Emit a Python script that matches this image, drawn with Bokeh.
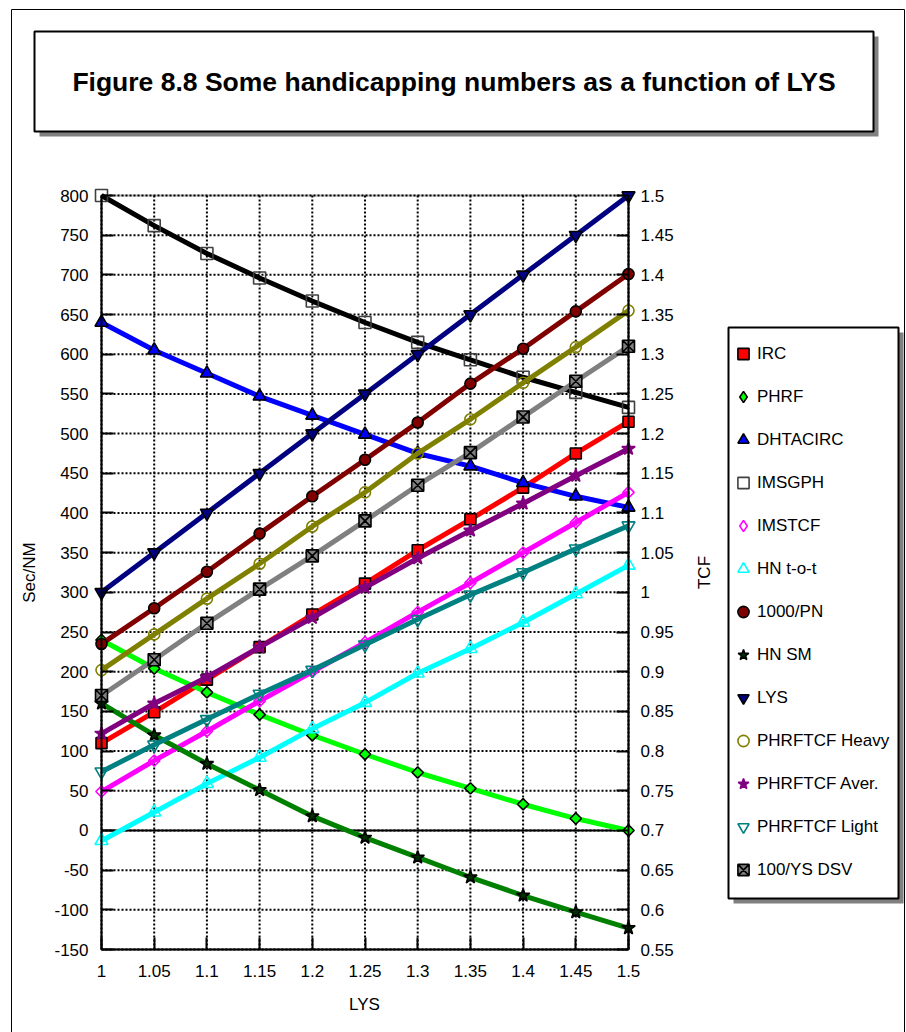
from bokeh.plotting import figure
from bokeh.models import (Range1d, LinearAxis, FixedTicker, NumeralTickFormatter,
                          Legend, LegendItem, Label, BoxAnnotation)
from bokeh.embed import file_html
from bokeh.resources import INLINE

# ---------------- data ----------------
LYS_X = [1.0, 1.05, 1.1, 1.15, 1.2, 1.25, 1.3, 1.35, 1.4, 1.45, 1.5]
IRC = [110, 149, 190, 231, 272, 311, 353, 392, 432, 475, 515]
PHRF = [240, 204, 174, 146, 120, 96, 73, 53, 33, 15, 0]
DHTACIRC = [640, 605, 576, 547, 523, 499, 475, 459, 438, 421, 407]
IMSGPH = [800, 762, 727, 696, 667, 640, 615, 593, 571, 552, 533]
IMSTCF = [0.749, 0.788, 0.825, 0.863, 0.900, 0.937, 0.975, 1.012, 1.050, 1.088, 1.126]
HN_TOT = [0.687, 0.723, 0.759, 0.792, 0.828, 0.861, 0.898, 0.929, 0.962, 0.998, 1.034]
PN1000 = [235, 280, 326, 374, 421, 467, 514, 563, 607, 654, 701]
HN_SM = [160, 120, 84, 51, 18, -9, -34, -59, -82, -103, -123]
LYS_TCF = [1.0, 1.05, 1.1, 1.15, 1.2, 1.25, 1.3, 1.35, 1.4, 1.45, 1.5]
PHRFTCF_HEAVY = [0.902, 0.947, 0.992, 1.036, 1.083, 1.126, 1.175, 1.218, 1.264, 1.309, 1.355]
PHRFTCF_AVER = [0.822, 0.860, 0.893, 0.931, 0.968, 1.006, 1.043, 1.078, 1.112, 1.147, 1.181]
PHRFTCF_LIGHT = [0.774, 0.808, 0.840, 0.872, 0.902, 0.934, 0.966, 0.997, 1.025, 1.055, 1.084]
YS_DSV100 = [170, 215, 261, 304, 346, 390, 435, 476, 521, 566, 610]

LEFT_TICKS = [-150, -100, -50, 0, 50, 100, 150, 200, 250, 300, 350, 400, 450,
              500, 550, 600, 650, 700, 750, 800]
RIGHT_TICKS = [0.55, 0.6, 0.65, 0.7, 0.75, 0.8, 0.85, 0.9, 0.95, 1.0, 1.05, 1.1,
               1.15, 1.2, 1.25, 1.3, 1.35, 1.4, 1.45, 1.5]
X_TICKS = [1.0, 1.05, 1.1, 1.15, 1.2, 1.25, 1.3, 1.35, 1.4, 1.45, 1.5]

TITLE = "Figure 8.8 Some handicapping numbers as a function of LYS"

# ---------------- layout / styles ----------------
W, H = 906, 1032
FONT = "Liberation Sans"
FS = "17px"

XMIN, XMAX = X_TICKS[0], X_TICKS[-1]
YMIN, YMAX = LEFT_TICKS[0], LEFT_TICKS[-1]
TMIN, TMAX = RIGHT_TICKS[0], RIGHT_TICKS[-1]
# pixel box of the plotting area on the page
PL, PR, PT, PB = 101, 628, 195, 949
KX = (XMAX - XMIN) / (PR - PL)
KY = (YMAX - YMIN) / (PB - PT)
KT = (TMAX - TMIN) / (PB - PT)


def px2x(px):
    return XMIN + (px - PL) * KX


def py2y(py):
    return YMAX - (py - PT) * KY


series = [
    # name, values, range, line colour, marker, fill, outline, size, angle
    ("IRC", IRC, "default", "#FF0000", "square", "#FF0000", "black", 11, 0),
    ("PHRF", PHRF, "default", "#00FF00", "square", "#00FF00", "black", 8, 0.7854),
    ("DHTACIRC", DHTACIRC, "default", "#0000FF", "triangle", "#0000FF", "black", 13, 0),
    ("IMSGPH", IMSGPH, "default", "#000000", "square", None, "#404040", 12, 0),
    ("IMSTCF", IMSTCF, "tcf", "#FF00FF", "square", None, "#FF00FF", 8, 0.7854),
    ("HN t-o-t", HN_TOT, "tcf", "#00FFFF", "triangle", None, "#00FFFF", 13, 0),
    ("1000/PN", PN1000, "default", "#800000", "circle", "#800000", "black", 11, 0),
    ("HN SM", HN_SM, "default", "#008000", "star", "#003000", "black", 14, 0),
    ("LYS", LYS_TCF, "tcf", "#000080", "inverted_triangle", "#000080", "black", 13, 0),
    ("PHRFTCF Heavy", PHRFTCF_HEAVY, "tcf", "#808000", "circle", None, "#808000", 11, 0),
    ("PHRFTCF Aver.", PHRFTCF_AVER, "tcf", "#800080", "star", "#800080", "#800080", 14, 0),
    ("PHRFTCF Light", PHRFTCF_LIGHT, "tcf", "#008080", "inverted_triangle", None, "#008080", 13, 0),
    ("100/YS DSV", YS_DSV100, "default", "#808080", "square_x", "#808080", "black", 12, 0),
]

p = figure(width=W, height=H, output_backend="svg", toolbar_location=None,
           x_range=Range1d(px2x(0), px2x(W)), y_range=Range1d(py2y(H), py2y(0)),
           x_axis_type=None, y_axis_type=None,
           min_border_left=0, min_border_right=0, min_border_top=0, min_border_bottom=0,
           background_fill_color="white", border_fill_color="white")
p.extra_y_ranges = {"tcf": Range1d(TMAX - (H - PT) * KT, TMAX + PT * KT)}
p.outline_line_color = None
p.xgrid.visible = False
p.ygrid.visible = False

xaxis = LinearAxis(fixed_location=YMIN, bounds=(XMIN, XMAX),
                   ticker=FixedTicker(ticks=X_TICKS),
                   formatter=NumeralTickFormatter(format="0.[00]"))
yaxis = LinearAxis(fixed_location=XMIN, bounds=(YMIN, YMAX),
                   ticker=FixedTicker(ticks=LEFT_TICKS),
                   formatter=NumeralTickFormatter(format="0"))
raxis = LinearAxis(y_range_name="tcf", fixed_location=XMAX, bounds=(TMIN, TMAX),
                   ticker=FixedTicker(ticks=RIGHT_TICKS),
                   formatter=NumeralTickFormatter(format="0.[00]"))
p.add_layout(xaxis, "below")
p.add_layout(yaxis, "left")
p.add_layout(raxis, "right")

for ax in [xaxis, yaxis, raxis]:
    ax.major_tick_in = 12
    ax.major_tick_out = 0
    ax.minor_tick_line_color = None
    ax.axis_line_width = 2
    ax.axis_line_color = "black"
    ax.major_tick_line_width = 2
    ax.major_tick_line_color = "black"
    ax.major_label_text_font = FONT
    ax.major_label_text_font_size = FS
    ax.major_label_text_color = "black"
xaxis.major_label_standoff = 15
yaxis.major_label_standoff = 13
raxis.major_label_standoff = 12

# ---------------- decorations: outer frame, title box, legend box ----------------
def box(l, t, r, b, fill, line, lw):
    return BoxAnnotation(left=px2x(l), right=px2x(r), top=py2y(t), bottom=py2y(b),
                         fill_color=fill if fill else "white",
                         fill_alpha=1 if fill else 0,
                         line_color=line if line else "black",
                         line_alpha=1 if line else 0, line_width=lw,
                         level="underlay")


p.add_layout(box(11, 9, 904, 1040, None, "black", 1))
p.add_layout(box(39, 36, 878, 136, "#808080", None, 0))
p.add_layout(box(34, 31, 873, 131, "white", "black", 2))
p.add_layout(box(733, 332, 903, 903, "#808080", None, 0))
p.add_layout(box(728, 327, 898, 898, "white", "black", 2))

# ---------------- grid (dotted) ----------------
p.segment(x0=X_TICKS, y0=[YMIN] * len(X_TICKS), x1=X_TICKS, y1=[YMAX] * len(X_TICKS),
          line_color="black", line_width=2, line_dash="2 2")
p.segment(x0=[XMIN] * len(LEFT_TICKS), y0=LEFT_TICKS, x1=[XMAX] * len(LEFT_TICKS),
          y1=LEFT_TICKS, line_color="black", line_width=2, line_dash="2 2")
# plot-area border and zero line
p.add_layout(BoxAnnotation(left=XMIN, right=XMAX, bottom=YMIN, top=YMAX,
                           fill_alpha=0, line_color="black", line_width=2,
                           level="underlay"))
p.segment(x0=[XMIN], y0=[0], x1=[XMAX], y1=[0], line_color="black", line_width=2)

# ---------------- texts ----------------
p.add_layout(Label(x=px2x(453.5), y=py2y(81), text=TITLE,
                   text_font=FONT, text_font_size="26.5px", text_font_style="bold",
                   text_align="center", text_baseline="middle", text_color="black"))
p.add_layout(Label(x=px2x(29), y=py2y(572), text="Sec/NM", angle=1.5707963,
                   text_font=FONT, text_font_size=FS, text_align="center",
                   text_baseline="middle", text_color="black"))
p.add_layout(Label(x=px2x(704), y=py2y(572), text="TCF", angle=1.5707963,
                   text_font=FONT, text_font_size=FS, text_align="center",
                   text_baseline="middle", text_color="black"))
p.add_layout(Label(x=px2x(364), y=py2y(1004), text="LYS",
                   text_font=FONT, text_font_size=FS, text_align="center",
                   text_baseline="middle", text_color="black"))

# ---------------- series ----------------
items = []
for name, vals, rng, col, mk, fill, outline, size, ang in series:
    p.line(LYS_X, vals, y_range_name=rng, line_color=col, line_width=5)
    sc = p.scatter(LYS_X, vals, y_range_name=rng, marker=mk, size=size, angle=ang,
                   fill_color=fill if fill else "white",
                   fill_alpha=1 if fill else 0,
                   line_color=outline, line_width=1.6)
    leg_r = sc
    if ang:
        # legend swatch only (hidden renderer): legend swatches ignore the angle
        leg_r = p.scatter(LYS_X, vals, y_range_name=rng, marker="diamond", size=size,
                          fill_color=fill if fill else "white",
                          fill_alpha=1 if fill else 0,
                          line_color=outline, line_width=1.6, visible=False)
    items.append(LegendItem(label=name, renderers=[leg_r]))

legend = Legend(items=items, location=(729, 141), orientation="vertical",
                glyph_width=28, glyph_height=43, label_height=43, spacing=0,
                padding=0, margin=0, border_line_alpha=0, background_fill_alpha=0,
                label_standoff=0, label_text_font=FONT, label_text_font_size=FS,
                label_text_color="black")
p.add_layout(legend, "center")

open("out.html", "w").write(file_html(p, INLINE))
